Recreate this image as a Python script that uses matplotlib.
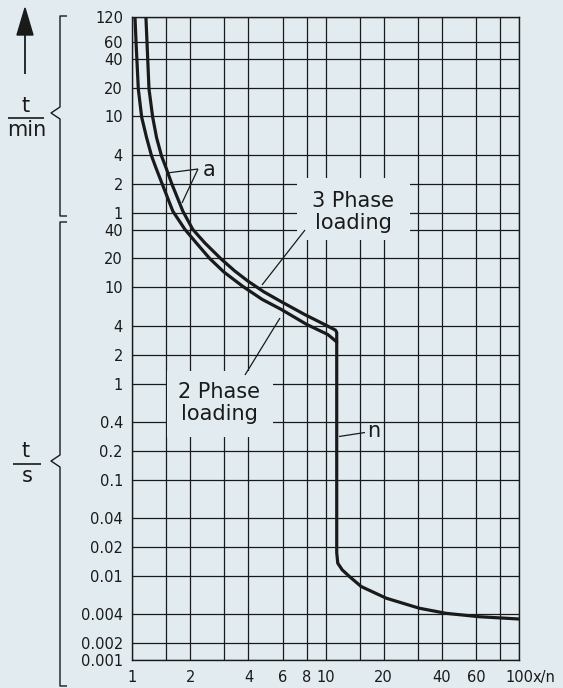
import numpy as np
import matplotlib
matplotlib.use('Agg')
import matplotlib.pyplot as plt
from matplotlib.patches import Rectangle, Polygon
from matplotlib.lines import Line2D
from matplotlib.ticker import NullFormatter, NullLocator

# ---------------- data (x = multiple of rated current, t in seconds) ----------------
upper_x = [1.18, 1.195, 1.224, 1.279, 1.34, 1.422, 1.50, 1.602, 1.832, 2.06, 2.38, 2.90, 3.40,
           3.98, 4.8, 5.91, 7.80, 9.88, 11.25, 11.43]
upper_t = [7200, 3600, 1160, 590, 360, 232, 175, 121, 62, 40.2, 29, 19.6, 14.8,
           11.6, 9.0, 7.1, 5.23, 4.12, 3.6, 3.4]

lower_x = [1.036, 1.049, 1.078, 1.122, 1.19, 1.263, 1.33, 1.428, 1.626, 1.876, 2.15, 2.52, 2.98,
           3.75, 4.71, 5.91, 8.0, 10.27, 11.1, 11.43]
lower_t = [7200, 3600, 1160, 590, 360, 232, 175, 121, 62, 40.2, 29, 20.0, 14.5,
           10.2, 7.5, 5.90, 4.12, 3.24, 2.85, 2.7]

n_x = [11.43, 11.43, 11.57, 12.2, 13.3, 15.3, 20.6, 30.5, 41.9, 62.2, 100]
n_t = [3.4, 0.0174, 0.01355, 0.01155, 0.00984, 0.00774, 0.00586, 0.00461, 0.00408, 0.00376, 0.00356]

xtick_values = [1, 2, 4, 6, 8, 10, 20, 40, 60, 100]
xtick_labels = ['1', '2', '4', '6', '8', '10', '20', '40', '60', '100']
xgrid_extra = [1.5, 3, 15, 30, 80]

ytick_values = [0.001, 0.002, 0.004, 0.01, 0.02, 0.04, 0.1, 0.2, 0.4, 1, 2, 4, 10, 20, 40,
                60, 120, 240, 600, 1200, 2400, 3600, 7200]
ytick_labels = ['0.001', '0.002', '0.004', '0.01', '0.02', '0.04', '0.1', '0.2', '0.4', '1', '2', '4',
                '10', '20', '40', '1', '2', '4', '10', '20', '40', '60', '120']

# ---------------- styling ----------------
BG = '#e2ecf0'
INK = '#1a1a1a'
W, H = 563, 688

fig = plt.figure(figsize=(W / 100, H / 100), dpi=100, facecolor=BG)


def fp(px, py):
    return (px / W, 1 - py / H)


L, R, T, B = 132, 519, 17, 660
ax = fig.add_axes([L / W, 1 - B / H, (R - L) / W, (B - T) / H])
ax.set_facecolor(BG)

# slightly compressed log scale at both ends (as in the drawing)
A = np.array([-12, -3, np.log10(0.002), np.log10(3600), np.log10(7200), 12])
P = np.array([-12, -2.875, np.log10(0.002), np.log10(3600), 3.8125, 12])


def fwd(t):
    t = np.asarray(t, dtype=float)
    return np.interp(np.log10(np.clip(t, 1e-12, None)), A, P)


def inv(u):
    return 10 ** np.interp(np.asarray(u, dtype=float), P, A)


ax.set_xscale('log')
ax.set_yscale('function', functions=(fwd, inv))
ax.set_xlim(1, 100)
ax.set_ylim(0.001, 7200)

ax.set_xticks(xtick_values)
ax.set_xticklabels(xtick_labels)
ax.set_xticks(xgrid_extra, minor=True)
ax.xaxis.set_minor_formatter(NullFormatter())
ax.set_yticks(ytick_values)
ax.set_yticklabels(ytick_labels)
ax.yaxis.set_minor_locator(NullLocator())

ax.tick_params(axis='both', which='both', length=0, colors=INK, labelsize=10.5)
ax.tick_params(axis='y', pad=6.5)
ax.tick_params(axis='x', pad=7)

ax.set_axisbelow(True)
ax.grid(True, which='both', axis='x', color=INK, lw=0.9)
ax.grid(True, which='major', axis='y', color=INK, lw=0.9)
for s in ax.spines.values():
    s.set_color(INK)
    s.set_linewidth(1.0)

# gaps in the grid behind labels
for (x0, y0, x1, y1) in [(297, 178, 410, 240), (167, 371, 273, 437)]:
    fx0, fy1 = fp(x0, y0)
    fx1, fy0 = fp(x1, y1)
    ax.add_patch(Rectangle((fx0, fy0), fx1 - fx0, fy1 - fy0, transform=fig.transFigure,
                           facecolor=BG, edgecolor='none', zorder=1))

# curves
ax.plot(lower_x, lower_t, color=INK, lw=2.3, solid_joinstyle='round',
        solid_capstyle='round', zorder=3)
ax.plot(upper_x + n_x, upper_t + n_t, color=INK, lw=2.3, solid_joinstyle='round',
        solid_capstyle='round', zorder=3)

# labels
fig.text(*fp(353, 212), '3 Phase\nloading', ha='center', va='center', fontsize=15,
         linespacing=1.1, color=INK)
fig.text(*fp(219, 403), '2 Phase\nloading', ha='center', va='center', fontsize=15,
         linespacing=1.1, color=INK)
fig.text(*fp(209, 170), 'a', ha='center', va='center', fontsize=15, color=INK)
fig.text(*fp(374, 431), 'n', ha='center', va='center', fontsize=15, color=INK)
fig.text(*fp(533, 670), 'x/n', ha='left', va='top', fontsize=10.5, color=INK)


def seg(pts, lw=0.9):
    xs = [p[0] / W for p in pts]
    ys = [1 - p[1] / H for p in pts]
    fig.add_artist(Line2D(xs, ys, color=INK, lw=lw, solid_capstyle='butt'))


# leader lines
seg([(198, 169), (167, 173)])
seg([(198, 169), (182, 203)])
seg([(305, 230), (262, 285)])
seg([(245, 375), (280, 318)])
seg([(365, 432.5), (339, 436.5)])

# left decorations: arrow
seg([(25, 74), (25, 33)], lw=1.3)
fig.add_artist(Polygon([fp(25, 8), fp(17, 35), fp(33, 35)], closed=True,
                       facecolor=INK, edgecolor=INK, transform=fig.transFigure))

# braces
seg([(67, 16), (60, 16), (60, 107), (51, 113), (60, 119), (60, 216), (67, 216)], lw=1.0)
seg([(67, 222), (60, 222), (60, 455), (51, 461), (60, 467), (60, 686), (67, 686)], lw=1.0)

# fractions t/min and t/s
fig.text(*fp(26, 106), 't', ha='center', va='center', fontsize=15, color=INK)
seg([(8, 118), (44, 118)], lw=1.2)
fig.text(*fp(27, 130), 'min', ha='center', va='center', fontsize=15, color=INK)

fig.text(*fp(26, 451), 't', ha='center', va='center', fontsize=15, color=INK)
seg([(13, 464), (41, 464)], lw=1.2)
fig.text(*fp(27, 476), 's', ha='center', va='center', fontsize=15, color=INK)

fig.savefig('out.png', dpi=100, facecolor=BG)
